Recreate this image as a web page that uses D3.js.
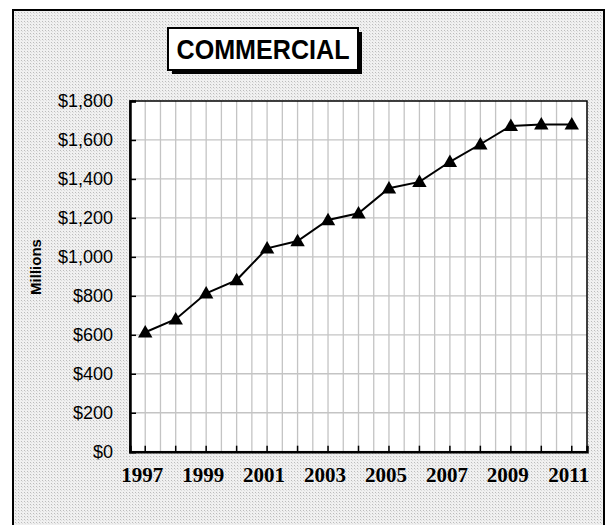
<!DOCTYPE html>
<html><head><meta charset="utf-8">
<script src="https://cdn.jsdelivr.net/npm/d3@7"></script>
<style>html,body{margin:0;padding:0;background:#fff}</style>
</head><body>
<script>
const years = [1997,1998,1999,2000,2001,2002,2003,2004,2005,2006,2007,2008,2009,2010,2011];
const values = [613,680,813,881,1044,1081,1189,1224,1352,1385,1488,1578,1672,1680,1680];
const yTicks = [0,200,400,600,800,1000,1200,1400,1600,1800];
const xLabelYears = [1997,1999,2001,2003,2005,2007,2009,2011];
const title = "COMMERCIAL";
const yTitle = "Millions";

const W = 605, H = 525;
const svg = d3.select("body").append("svg").attr("width", W).attr("height", H);
const defs = svg.append("defs");
const pat = defs.append("pattern").attr("id","dots").attr("width",3).attr("height",3).attr("patternUnits","userSpaceOnUse");
pat.append("rect").attr("width",3).attr("height",3).attr("fill","#f0f0f0");
pat.append("rect").attr("x",0).attr("y",0).attr("width",1).attr("height",1).attr("fill","#bcbcbc");
pat.append("rect").attr("x",1).attr("y",1).attr("width",1).attr("height",1).attr("fill","#dcdcdc");

// outer frame
svg.append("rect").attr("x",13).attr("y",10).attr("width",591).attr("height",530)
  .attr("fill","url(#dots)").attr("stroke","#000").attr("stroke-width",2);

const m = {l:130, t:101, r:587, b:451.7};
const x = d3.scaleBand().domain(years).range([m.l, m.r]).padding(0);
const y = d3.scaleLinear().domain([0,1800]).range([m.b, m.t]);

svg.append("rect").attr("x",m.l).attr("y",m.t).attr("width",m.r-m.l).attr("height",m.b-m.t).attr("fill","#fff");

// grid
const g = svg.append("g").attr("stroke","#c4c4c4").attr("stroke-width",1.3);
const half = [];
years.forEach(d => { half.push(x(d) + x.bandwidth()/2); half.push(x(d) + x.bandwidth()); });
g.selectAll("line.v").data(half.filter(v => v < m.r - 1)).join("line")
  .attr("x1",d=>d).attr("x2",d=>d).attr("y1",m.t).attr("y2",m.b);
g.selectAll("line.h").data(yTicks.slice(1,-1)).join("line")
  .attr("x1",m.l).attr("x2",m.r).attr("y1",d=>y(d)).attr("y2",d=>y(d));

// plot border
svg.append("rect").attr("x",m.l).attr("y",m.t).attr("width",m.r-m.l).attr("height",m.b-m.t)
  .attr("fill","none").attr("stroke","#000").attr("stroke-width",1.5);

// y axis
const yAxis = d3.axisLeft(y).tickValues(yTicks).tickSize(-6).tickPadding(17)
  .tickFormat(d => "$" + d3.format(",")(d));
const ya = svg.append("g").attr("transform",`translate(${m.l},0)`).call(yAxis);
ya.attr("font-size",null).attr("font-family",null);
ya.select(".domain").attr("stroke","#000").attr("stroke-width",2.5);
ya.selectAll(".tick line").attr("stroke","#000").attr("stroke-width",1.5);
ya.selectAll("text").style("font-family","'Liberation Sans', Arial, sans-serif").style("font-size","18px").attr("fill","#000");

// x axis
const xAxis = d3.axisBottom(x).tickSize(-6).tickPadding(15)
  .tickFormat(d => xLabelYears.includes(d) ? String(d) : "");
const xa = svg.append("g").attr("transform",`translate(0,${m.b})`).call(xAxis);
xa.attr("font-size",null).attr("font-family",null);
xa.select(".domain").attr("stroke","#000").attr("stroke-width",2.5);
xa.selectAll(".tick line").attr("stroke","#000").attr("stroke-width",1.5);
xa.selectAll("text").attr("dx",-3).style("font-family","'Liberation Serif', 'Times New Roman', serif").style("font-weight","bold")
  .style("font-size","21px").attr("fill","#000");

// y title
svg.append("text").attr("transform","translate(41,267) rotate(-90)").attr("text-anchor","middle")
  .style("font-family","'Liberation Sans', Arial, sans-serif").style("font-weight","bold").style("font-size","15px")
  .text(yTitle);

// line
const cx = d => x(d) + x.bandwidth()/2;
svg.append("path").datum(years.map((d,i)=>[cx(d), y(values[i])]))
  .attr("d", d3.line()).attr("fill","none").attr("stroke","#000").attr("stroke-width",2);
svg.selectAll("path.mk").data(years).join("path")
  .attr("d", d3.symbol().type(d3.symbolTriangle).size(90))
  .attr("transform",(d,i)=>`translate(${cx(d)},${y(values[i])+1})`).attr("fill","#000");

// title box
const tb = {x:168, y:28, w:190, h:42};
svg.append("rect").attr("x",tb.x+4).attr("y",tb.y+4).attr("width",tb.w).attr("height",tb.h).attr("fill","#000");
svg.append("rect").attr("x",tb.x).attr("y",tb.y).attr("width",tb.w).attr("height",tb.h).attr("fill","#fff")
  .attr("stroke","#000").attr("stroke-width",2);
svg.append("text").attr("x",tb.x+tb.w/2).attr("y",tb.y+31).attr("text-anchor","middle")
  .style("font-family","'Liberation Sans', Arial, sans-serif").style("font-weight","bold").style("font-size","28px")
  .attr("textLength",173).attr("lengthAdjust","spacingAndGlyphs").text(title);
</script>
</body></html>
